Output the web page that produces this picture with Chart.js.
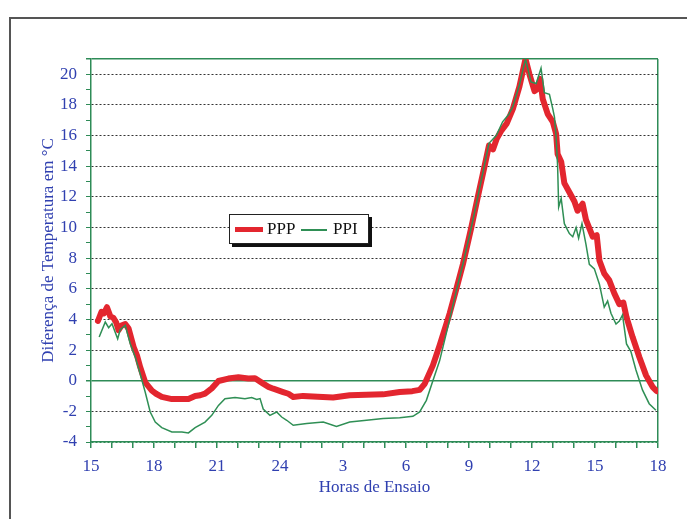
<!DOCTYPE html>
<html>
<head>
<meta charset="utf-8">
<script src="https://cdn.jsdelivr.net/npm/chart.js@4.4.1/dist/chart.umd.min.js"></script>
<style>
  body { margin: 0; background: #fff; }
  #wrap { position: relative; width: 687px; height: 519px; overflow: hidden; }
  #frame { position: absolute; left: 9px; top: 17px; width: 700px; height: 520px;
           border-left: 2px solid #555; border-top: 2px solid #555; }
  #grafico { position: absolute; left: 0; top: 0; }
  #leyenda { position: absolute; left: 229px; top: 214px; width: 138px; height: 28px;
             background: #fff; border: 1px solid #222; box-shadow: 3px 3px 0 #111;
             font: 17px "Liberation Serif", "Times New Roman", serif; color: #111; }
  #leyenda span { position: absolute; top: 4px; }
  #leyenda i { position: absolute; top: 14px; height: 0; }
</style>
</head>
<body>
<div id="wrap">
  <div id="frame"></div>
  <canvas id="grafico" width="687" height="519"></canvas>
  <div id="leyenda">
    <i style="left:5px;width:28px;border-top:5px solid #e3262f;top:12px"></i>
    <span style="left:37px">PPP</span>
    <i style="left:71px;width:26px;border-top:2px solid #2f8f55;top:14px"></i>
    <span style="left:103px">PPI</span>
  </div>
</div>
<script>
// horas de ensaio (15h do primeiro dia ate 18h do dia seguinte, 24 -> 0h)
const horasPPP = [15.33, 15.5, 15.62, 15.76, 15.92, 16.07, 16.2, 16.31, 16.45, 16.63, 16.79, 17.03, 17.2, 17.34, 17.58,
  17.9, 18.1, 18.37, 18.85, 19.2, 19.64, 19.96, 20.2, 20.43, 20.75, 21.07, 21.54, 22.02, 22.49, 22.81, 23.2, 23.45,
  23.68, 24.15, 24.4, 24.63, 25.1, 25.8, 26.53, 27.32, 28.1, 28.91, 29.7, 30.3, 30.65, 30.89, 31.28, 31.6, 32.08,
  32.4, 32.71, 33.11, 33.42, 33.74, 33.95, 34.14, 34.32, 34.53, 34.8, 35.09, 35.4, 35.69, 35.88, 36.12, 36.27, 36.39,
  36.51, 36.75, 36.99, 37.15, 37.22, 37.39, 37.54, 37.78, 38.02, 38.17, 38.41, 38.57, 38.89, 39.08, 39.21, 39.44,
  39.68, 39.92, 40.16, 40.35, 40.5, 40.79, 41.11, 41.43, 41.74, 41.93];
const valoresPPP = [3.9, 4.5, 4.4, 4.8, 4.2, 4.1, 3.8, 3.3, 3.6, 3.7, 3.4, 2.2, 1.6, 0.9, -0.1,
  -0.65, -0.85, -1.05, -1.2, -1.2, -1.2, -1.0, -0.95, -0.84, -0.5, -0.02, 0.14, 0.22, 0.14, 0.16, -0.19, -0.4,
  -0.52, -0.74, -0.85, -1.06, -0.99, -1.05, -1.1, -0.95, -0.92, -0.89, -0.74, -0.68, -0.6, -0.2, 1.0, 2.3, 4.4,
  6.0, 7.6, 10.0, 12.0, 14.0, 15.35, 15.1, 15.8, 16.3, 16.8, 17.75, 19.2, 21.0, 20.0, 18.9, 19.05, 19.7,
  18.4, 17.4, 16.9, 16.1, 14.8, 14.3, 12.9, 12.3, 11.7, 11.1, 11.55, 10.5, 9.4, 9.5, 7.85, 7.0,
  6.55, 5.7, 5.0, 5.1, 4.15, 2.85, 1.55, 0.35, -0.4, -0.67];

const horasPPI = [15.39, 15.68, 15.84, 16.0, 16.27, 16.39, 16.63, 16.87, 17.11, 17.34, 17.58, 17.82, 18.06, 18.37,
  18.85, 19.33, 19.64, 19.96, 20.43, 20.75, 21.07, 21.38, 21.86, 22.33, 22.65, 22.89, 23.05, 23.2, 23.52, 23.84,
  24.08, 24.32, 24.63, 25.27, 26.06, 26.69, 27.32, 28.12, 28.91, 29.7, 30.33, 30.65, 30.97, 31.28, 31.6, 32.08,
  32.4, 32.71, 33.11, 33.42, 33.74, 33.95, 34.3, 34.6, 34.9, 35.09, 35.4, 35.69, 35.95, 36.2, 36.43, 36.59, 36.83,
  36.99, 37.07, 37.15, 37.22, 37.27, 37.39, 37.54, 37.78, 37.94, 38.1, 38.22, 38.38, 38.57, 38.73, 38.97, 39.21,
  39.44, 39.6, 39.76, 40.0, 40.16, 40.31, 40.5, 40.71, 40.95, 41.26, 41.58, 41.9];
const valoresPPI = [2.85, 3.83, 3.46, 3.72, 2.74, 3.33, 3.61, 2.42, 1.54, 0.46, -0.74, -2.04, -2.7, -3.06,
  -3.35, -3.35, -3.41, -3.06, -2.7, -2.26, -1.61, -1.17, -1.1, -1.17, -1.1, -1.23, -1.17, -1.85, -2.26, -2.04,
  -2.37, -2.58, -2.91, -2.8, -2.7, -2.98, -2.7, -2.58, -2.47, -2.41, -2.32, -2.04, -1.28, 0.0, 1.3, 4.0,
  5.9, 7.6, 10.0, 12.0, 14.1, 15.5, 16.0, 16.9, 17.4, 17.9, 19.3, 21.0, 19.5, 19.4, 20.4, 18.8, 18.7,
  17.75, 17.2, 15.9, 14.0, 11.33, 11.9, 10.25, 9.6, 9.4, 10.0, 9.3, 10.25, 8.9, 7.6, 7.3, 6.3,
  4.8, 5.2, 4.4, 3.7, 3.9, 4.3, 2.4, 1.9, 0.7, -0.6, -1.5, -1.93];

const verde = "#2e8b57";
const azul = "#3040b0";
const fonte = {family: "'Liberation Serif', 'Times New Roman', serif", size: 17};

const myChart = new Chart("grafico", {
  type: "line",
  data: {
    datasets: [{
      label: "PPI",
      data: horasPPI.map((h, i) => ({x: h, y: valoresPPI[i]})),
      borderColor: "#2f8f55",
      borderWidth: 1.5,
      pointRadius: 0,
      tension: 0
    }, {
      label: "PPP",
      data: horasPPP.map((h, i) => ({x: h, y: valoresPPP[i]})),
      borderColor: "#e3262f",
      borderWidth: 6,
      borderJoinStyle: "round",
      borderCapStyle: "round",
      pointRadius: 0,
      tension: 0
    }]
  },
  options: {
    responsive: false,
    animation: false,
    layout: {padding: {top: 59, right: 29, bottom: 0, left: 0}},
    plugins: {legend: {display: false}, tooltip: {enabled: false}},
    scales: {
      x: {
        type: "linear",
        min: 15, max: 42,
        afterFit: s => { s.height = 77; },
        ticks: {
          stepSize: 1, autoSkip: false, maxRotation: 0, padding: 8,
          color: azul, font: fonte,
          callback: v => (v % 3 === 0 ? String(v > 24 ? v - 24 : v) : "")
        },
        grid: {
          color: c => (c.tick && c.tick.value === 42 ? verde : "transparent"),
          lineWidth: 1.5,
          tickColor: verde,
          tickLength: 6
        },
        border: {color: verde, width: 1.5},
        title: {display: true, text: "Horas de Ensaio", color: azul, font: fonte, padding: {top: 21, bottom: 21}}
      },
      y: {
        min: -4, max: 21,
        afterFit: s => { s.width = 91; },
        ticks: {
          stepSize: 1, autoSkip: false, padding: 9,
          color: azul, font: fonte,
          callback: v => (v % 2 === 0 ? String(v) : "")
        },
        grid: {
          color: c => {
            const v = c.tick ? c.tick.value : null;
            if (v === 0 || v === 21 || v === -4) return verde;
            return v % 2 === 0 ? "#333" : "transparent";
          },
          lineWidth: c => (c.tick && (c.tick.value === 0 || c.tick.value === 21) ? 1.5 : 1),
          tickColor: verde,
          tickLength: 5
        },
        border: {
          color: verde, width: 1.5,
          dash: c => (c.tick && (c.tick.value === 0 || c.tick.value === 21) ? [] : [2, 2])
        },
        title: {display: true, text: "Diferença de Temperatura em °C", color: azul, font: fonte, padding: {top: 38, bottom: 38}}
      }
    }
  }
});
</script>
</body>
</html>
